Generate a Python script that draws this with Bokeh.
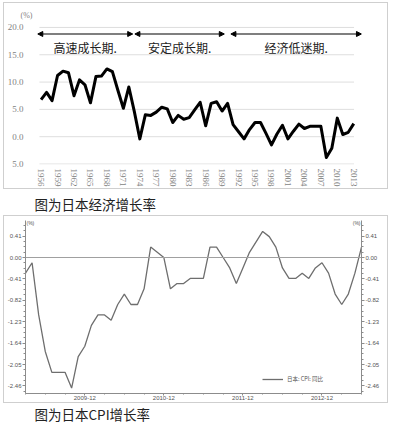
import math
from bokeh.plotting import figure
from bokeh.models import (Range1d, FixedTicker, LinearAxis, Arrow, NormalHead, Label,
                          Span, Legend, LegendItem, Spacer)
from bokeh.layouts import column, row
from bokeh.embed import file_html
from bokeh.resources import INLINE
from bokeh.core.properties import value

# ---------------- data: Japan real GDP growth (%) ----------------
gdp_years = list(range(1956, 2014))
gdp_growth = [6.8, 8.1, 6.6, 11.2, 12.0, 11.7, 7.5, 10.4, 9.5, 6.2,
              11.0, 11.1, 12.4, 11.9, 8.5, 5.2, 9.1, 4.6, -0.4, 4.0,
              3.9, 4.5, 5.4, 5.1, 2.6, 3.9, 3.2, 3.5, 4.9, 6.3,
              2.0, 6.1, 6.4, 4.7, 6.1, 2.2, 0.9, -0.4, 1.3, 2.6,
              2.6, 0.6, -1.5, 0.5, 2.1, -0.4, 1.0, 2.3, 1.5, 1.9,
              1.9, 1.9, -3.8, -2.1, 3.4, 0.4, 0.8, 2.4]
gdp_yticks = [-5, 0, 5, 10, 15, 20]
gdp_ytick_labels = ["5.0", "0.0", "5.0", "10.0", "15.0", "20.0"]
gdp_xticks = list(range(1956, 2014, 3))

period_names = ["高速成长期.", "安定成长期.", "经济低迷期."]
period_start = [1955.4, 1973.1, 1990.6]
period_end = [1972.7, 1989.4, 2014.4]

# ---------------- data: Japan CPI y/y (%), 2009-03 .. 2013-06 ----------------
cpi_yoy = [-0.3, -0.1, -1.1, -1.8, -2.2, -2.2, -2.2, -2.5, -1.9, -1.7,
           -1.3, -1.1, -1.1, -1.2, -0.9, -0.7, -0.9, -0.9, -0.6, 0.2, 0.1, 0.0,
           -0.6, -0.5, -0.5, -0.4, -0.4, -0.4, 0.2, 0.2, 0.0, -0.2, -0.5, -0.2,
           0.1, 0.3, 0.5, 0.4, 0.2, -0.2, -0.4, -0.4, -0.3, -0.4, -0.2, -0.1,
           -0.3, -0.7, -0.9, -0.7, -0.3, 0.2]
cpi_months = ["%d-%02d" % (2009 + (2 + i) // 12, (2 + i) % 12 + 1) for i in range(len(cpi_yoy))]
cpi_yticks = [0.41, 0.00, -0.41, -0.82, -1.23, -1.64, -2.05, -2.46]
cpi_ytick_labels = ["0.41", "0.00", "-0.41", "-0.82", "-1.23", "-1.64", "-2.05", "-2.46"]
cpi_legend = "日本: CPI: 同比"

captions = ["图为日本经济增长率", "图为日本CPI增长率"]

W = 385
LB = 22          # common left border of all stacked figures
CJK = "Noto Sans CJK SC"
FRAME_CSS = {"outline": "1px solid #cfcfcf", "outline-offset": "-1px"}

# ================= top chart =================
H1 = 187
p1 = figure(width=W, height=H1, output_backend="svg", toolbar_location=None,
            x_range=Range1d(1953.16, 2014.41), y_range=Range1d(-5.09, 21.27),
            min_border_left=LB, min_border_right=3, min_border_top=18, min_border_bottom=24)
p1.outline_line_color = None
p1.grid.visible = False
p1.border_fill_color = None
p1.background_fill_color = None
p1.styles = FRAME_CSS

p1.title.text = "(%)"
p1.title.align = "left"
p1.title.offset = -5
p1.title.standoff = 1
p1.title.text_font = "Liberation Serif"
p1.title.text_font_size = "8px"
p1.title.text_font_style = "normal"
p1.title.text_color = "#7f7f7f"

for ax in (p1.xaxis[0], p1.yaxis[0]):
    ax.axis_line_color = None
    ax.major_tick_line_color = None
    ax.minor_tick_line_color = None
    ax.major_tick_out = 0
    ax.minor_tick_out = 0
    ax.major_label_text_font = "Liberation Serif"
    ax.major_label_text_font_size = "9px"
    ax.major_label_text_color = "#7f7f7f"

p1.yaxis.ticker = FixedTicker(ticks=gdp_yticks)
p1.yaxis.major_label_overrides = dict(zip(gdp_yticks, gdp_ytick_labels))
p1.yaxis.major_label_standoff = 2
p1.xaxis.ticker = FixedTicker(ticks=gdp_xticks)
p1.xaxis.major_label_orientation = -math.pi / 2
p1.xaxis.major_label_standoff = 4

n = len(gdp_yticks)
p1.segment(x0=[gdp_years[0] - 0.3] * n, x1=[gdp_years[-1] + 0.05] * n,
           y0=gdp_yticks, y1=gdp_yticks, line_color="#dedede", line_width=1)

p1.line(gdp_years, gdp_growth, line_color="black", line_width=3, line_join="round")

ARROW_Y = 18.8
TEXT_Y = 16.3
for s, e in zip(period_start, period_end):
    p1.add_layout(Arrow(x_start=s, x_end=e, y_start=ARROW_Y, y_end=ARROW_Y,
                        line_color="black", line_width=1.2,
                        start=NormalHead(size=5, fill_color="black", line_color="black"),
                        end=NormalHead(size=5, fill_color="black", line_color="black")))
p1.text(x=[(s + e) / 2 for s, e in zip(period_start, period_end)], y=[TEXT_Y] * 3,
        text=period_names, text_font=value(CJK), text_font_size="12px",
        text_align="center", text_baseline="middle", text_color="#222222")


def caption(txt, h, y):
    c = figure(width=W, height=h, output_backend="svg", toolbar_location=None,
               x_range=Range1d(0, 1), y_range=Range1d(0, 1),
               x_axis_location=None, y_axis_location=None,
               min_border_left=LB, min_border_right=0, min_border_top=0, min_border_bottom=0)
    c.outline_line_color = None
    c.grid.visible = False
    c.add_layout(Label(x=34 - 3 - LB, y=y, x_units="screen", y_units="screen", text=txt,
                       text_font=CJK, text_font_size="13.5px", text_color="#222222",
                       text_baseline="middle"))
    return c


cap1 = caption(captions[0], 26, 12)

# ================= bottom chart =================
H2 = 188
idx = list(range(len(cpi_yoy)))
p2 = figure(width=W, height=H2, output_backend="svg", toolbar_location=None,
            x_range=Range1d(0, len(cpi_yoy) - 1), y_range=Range1d(-2.605, 0.709),
            min_border_left=LB, min_border_right=27, min_border_top=5, min_border_bottom=10)
p2.outline_line_color = None
p2.grid.visible = False
p2.border_fill_color = None
p2.background_fill_color = None
p2.styles = FRAME_CSS

minor_y = [round(-2.46 - 0.1025 + k * 0.1025, 4) for k in range(34)]
p2.yaxis.ticker = FixedTicker(ticks=cpi_yticks, minor_ticks=minor_y)
p2.yaxis.major_label_overrides = dict(zip(cpi_yticks, cpi_ytick_labels))
rax = LinearAxis(ticker=FixedTicker(ticks=cpi_yticks, minor_ticks=minor_y),
                 major_label_overrides=dict(zip(cpi_yticks, cpi_ytick_labels)))
p2.add_layout(rax, "right")

dec_idx = [i for i, m in enumerate(cpi_months) if m.endswith("-12")]
p2.xaxis.ticker = FixedTicker(ticks=dec_idx, minor_ticks=list(range(0, len(cpi_yoy), 3)))
p2.xaxis.major_label_overrides = {i: cpi_months[i] for i in dec_idx}

for ax in (p2.xaxis[0], p2.yaxis[0], rax):
    ax.axis_line_color = "#8c8c8c"
    ax.major_tick_line_color = "#8c8c8c"
    ax.minor_tick_line_color = "#8c8c8c"
    ax.major_tick_in = 0
    ax.major_tick_out = 3
    ax.minor_tick_in = 0
    ax.minor_tick_out = 2
    ax.major_label_text_font = "Liberation Sans"
    ax.major_label_text_font_size = "6px"
    ax.major_label_text_color = "#555555"
    ax.major_label_standoff = 1
p2.xaxis.major_tick_out = 2
p2.xaxis.minor_tick_out = 1
p2.xaxis.major_label_standoff = 0

p2.add_layout(Span(location=0, dimension="width", line_color="#a0a0a0", line_width=1))
r = p2.line(idx, cpi_yoy, line_color="#6e6e6e", line_width=1.3)

leg = Legend(items=[LegendItem(label=cpi_legend, renderers=[r])], location=(237, 10),
             border_line_color=None, background_fill_alpha=0, padding=0, margin=0,
             glyph_width=21, glyph_height=8, label_height=8, label_standoff=4,
             label_text_font=CJK, label_text_font_size="5.5px", label_text_color="#555555")
p2.add_layout(leg)

p2.add_layout(Label(x=1, y=171, x_units="screen", y_units="screen", text="(%)",
                    text_font="Liberation Sans", text_font_size="5px",
                    text_color="#555555", text_baseline="middle"))
p2.add_layout(Label(x=W - LB - 27 - 1, y=171, x_units="screen", y_units="screen", text="(%)",
                    text_font="Liberation Sans", text_font_size="5px",
                    text_color="#555555", text_baseline="middle", text_align="right"))

cap2 = caption(captions[1], 20, 10)

layout = row(Spacer(width=3), column(Spacer(height=2), p1, cap1, p2, cap2))
open("out.html", "w").write(file_html(layout, INLINE))
